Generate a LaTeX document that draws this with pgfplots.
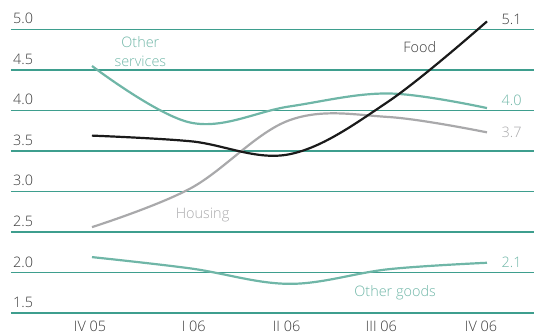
\documentclass[border=0pt]{standalone}
\usepackage{pgfplots}
\pgfplotsset{compat=1.18}
\usepackage{fontspec}
\setmainfont{Open Sans}[UprightFont={* Light}]
\definecolor{gridc}{HTML}{3E9E8E}
\definecolor{tealc}{HTML}{6FB6A7}
\definecolor{grayc}{HTML}{A9A9AB}
\definecolor{foodc}{HTML}{1A1A1A}
\definecolor{txt}{HTML}{3A3A3A}
\begin{document}
\begin{tikzpicture}[font=\fontsize{14.5}{16}\selectfont\color{txt}]
\begin{axis}[
  scale only axis,
  width=523bp, height=283.5bp,
  xmin=-0.82, xmax=4.476,
  ymin=1.5, ymax=5.0,
  clip=false,
  axis line style={draw=none},
  xtick={-0.02,1.03,1.97,2.93,3.94},
  xticklabels={IV 05, I 06, II 06, III 06, IV 06},
  xticklabel style={anchor=center, yshift=-13bp, font=\fontsize{14.5}{16}\selectfont\color{txt}},
  ytick={1.5,2.0,2.5,3.0,3.5,4.0,4.5,5.0},
  yticklabels={},
  major tick length=0pt,
  ymajorgrids,
  grid style={gridc, line width=1.3bp},
  /pgf/number format/assume math mode=true,
]
\foreach \v in {1.5,2.0,2.5,3.0,3.5,4.0,4.5,5.0}{
  \edef\tmp{\noexpand\node[anchor=base west, inner sep=0pt, text=txt] at (axis cs:-0.8,\v) [yshift=5.5bp] {\v};}
  \tmp
}
\addplot[tealc, line width=2.2bp, smooth, tension=0.6] coordinates {(0,4.55) (1,3.85) (2,4.05) (3,4.21) (4,4.03)};
\addplot[grayc, line width=2.2bp, smooth, tension=0.6] coordinates {(0,2.56) (1,3.04) (2,3.88) (3,3.92) (4,3.73)};
\addplot[foodc, line width=2.2bp, smooth, tension=0.6] coordinates {(0,3.69) (1,3.62) (2,3.46) (3,4.11) (4,5.1)};
\addplot[tealc, line width=2.2bp, smooth, tension=0.6] coordinates {(0,2.19) (1,2.05) (2,1.86) (3,2.04) (4,2.12)};
\node[text=tealc, align=center, font=\fontsize{14.5}{18.5}\selectfont] at (axis cs:0.49,4.73) {Other\\services};
\node[text=txt] at (axis cs:3.32,4.78) {Food};
\node[text=grayc] at (axis cs:1.12,2.71) {Housing};
\node[text=tealc] at (axis cs:3.07,1.75) {Other goods};
\node[text=txt] at (axis cs:4.25,5.12) {5.1};
\node[text=tealc] at (axis cs:4.25,4.12) {4.0};
\node[text=grayc] at (axis cs:4.25,3.73) {3.7};
\node[text=tealc] at (axis cs:4.25,2.13) {2.1};
\end{axis}
\pgfresetboundingbox
\path (current axis.south west) ++(-11bp,-22bp) coordinate (bbA);
\path (current axis.north east) ++(0bp,29.5bp) coordinate (bbB);
\useasboundingbox (bbA) rectangle (bbB);
\end{tikzpicture}
\end{document}
